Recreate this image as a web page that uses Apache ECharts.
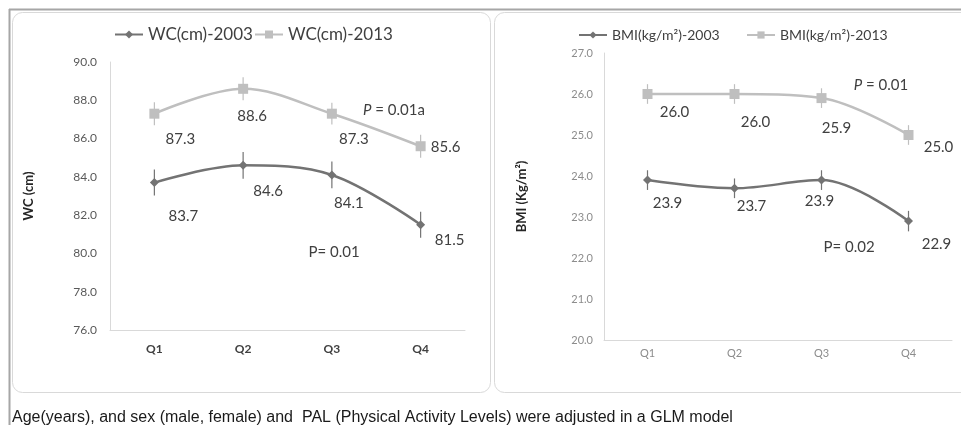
<!DOCTYPE html>
<html><head><meta charset="utf-8">
<script src="https://cdn.jsdelivr.net/npm/echarts@6/dist/echarts.min.js"></script>
<style>html,body{margin:0;padding:0;background:#fff}#c{width:961px;height:425px}</style>
</head><body><div id="c"></div>
<script>
const categories = ['Q1','Q2','Q3','Q4'];
const wc2003 = [83.7, 84.6, 84.1, 81.5];
const wc2013 = [87.3, 88.6, 87.3, 85.6];
const wc2003Err = [0.68, 0.7, 0.7, 0.68];
const wc2013Err = [0.6, 0.6, 0.57, 0.6];
const bmi2003 = [23.9, 23.7, 23.9, 22.9];
const bmi2013 = [26.0, 26.0, 25.9, 25.0];
const bmi2003Err = [0.24, 0.24, 0.24, 0.25];
const bmi2013Err = [0.24, 0.24, 0.24, 0.24];
const wcTicks = {min: 76, max: 90, interval: 2};
const bmiTicks = {min: 20, max: 27, interval: 1};

// label offsets (style only)
const offWc2003 = [[29,34],[25,26],[17,28],[29,15]];
const offWc2013 = [[26,25],[9,27],[22,25],[25,1]];
const offBmi2003 = [[20,23],[17,18],[-2,21],[28,23]];
const offBmi2013 = [[27,18],[21,28],[15,30],[30,12]];

const DARK = '#737373', LIGHT = '#bfbfbf', TXT = '#404040';
const FONT = 'Lato';

function withLabels(vals, offs, size) {
  return vals.map((v, i) => ({
    value: v,
    label: {show: true, position: 'inside', offset: offs[i], formatter: v.toFixed(1),
      color: TXT, fontSize: size, fontFamily: FONT}
  }));
}
function errSeries(vals, errs, color, axisIdx) {
  return {
    type: 'custom', xAxisIndex: axisIdx, yAxisIndex: axisIdx, silent: true, z: 1,
    data: vals.map((v, i) => [i, v - errs[i], v + errs[i]]),
    renderItem: function (params, api) {
      const p1 = api.coord([api.value(0), api.value(1)]);
      const p2 = api.coord([api.value(0), api.value(2)]);
      return {type: 'line', shape: {x1: p1[0], y1: p1[1], x2: p2[0], y2: p2[1]},
        style: {stroke: color, lineWidth: 1.2}};
    }
  };
}
function lineSeries(name, vals, offs, color, sym, symSize, axisIdx, lsize) {
  return {
    name: name, type: 'line', xAxisIndex: axisIdx, yAxisIndex: axisIdx,
    smooth: 0.35, symbol: sym, symbolSize: symSize, z: 3,
    lineStyle: {color: color, width: 2.5}, itemStyle: {color: color},
    data: withLabels(vals, offs, lsize)
  };
}

const chart = echarts.init(document.getElementById('c'), null, {renderer: 'canvas'});
chart.setOption({
  animation: false,
  backgroundColor: '#fff',
  grid: [
    {left: 110, right: 496, top: 62, bottom: 95},
    {left: 604, right: 9, top: 53, bottom: 85}
  ],
  legend: [
    {data: ['WC(cm)-2003'], left: 109, top: 21, itemWidth: 28, itemHeight: 10,
     textStyle: {fontFamily: FONT, fontSize: 17, color: TXT}},
    {data: ['WC(cm)-2013'], left: 249, top: 21, itemWidth: 28, itemHeight: 10,
     textStyle: {fontFamily: FONT, fontSize: 17, color: TXT}},
    {data: ['BMI(kg/m²)-2003'], left: 573, top: 23, itemWidth: 28, itemHeight: 9,
     textStyle: {fontFamily: FONT, fontSize: 14, color: TXT}},
    {data: ['BMI(kg/m²)-2013'], left: 741, top: 23, itemWidth: 28, itemHeight: 9,
     textStyle: {fontFamily: FONT, fontSize: 14, color: TXT}}
  ],
  xAxis: [
    {type: 'category', gridIndex: 0, data: categories, boundaryGap: true,
     axisLine: {lineStyle: {color: '#d9d9d9', width: 1}}, axisTick: {show: false},
     axisLabel: {fontFamily: FONT, fontWeight: 'bold', fontSize: 12, color: TXT, margin: 13}},
    {type: 'category', gridIndex: 1, data: categories, boundaryGap: true,
     axisLine: {lineStyle: {color: '#d9d9d9', width: 1}}, axisTick: {show: false},
     axisLabel: {fontFamily: FONT, fontSize: 11, color: '#8c8c8c', margin: 8}}
  ],
  yAxis: [
    {type: 'value', gridIndex: 0, min: wcTicks.min, max: wcTicks.max, interval: wcTicks.interval,
     name: 'WC (cm)', nameLocation: 'middle', nameGap: 75, nameRotate: 90,
     nameTextStyle: {fontFamily: FONT, fontWeight: 'bold', fontSize: 13, color: '#262626'},
     axisLine: {show: true, lineStyle: {color: '#d9d9d9'}}, axisTick: {show: false}, splitLine: {show: false},
     axisLabel: {fontFamily: FONT, fontSize: 12, color: '#595959', margin: 13, formatter: v => v.toFixed(1)}},
    {type: 'value', gridIndex: 1, min: bmiTicks.min, max: bmiTicks.max, interval: bmiTicks.interval,
     name: 'BMI (Kg/m²)', nameLocation: 'middle', nameGap: 76, nameRotate: 90,
     nameTextStyle: {fontFamily: FONT, fontWeight: 'bold', fontSize: 13, color: '#262626'},
     axisLine: {show: true, lineStyle: {color: '#d9d9d9'}}, axisTick: {show: false}, splitLine: {show: false},
     axisLabel: {fontFamily: FONT, fontSize: 11, color: '#8c8c8c', margin: 11, formatter: v => v.toFixed(1)}}
  ],
  series: [
    errSeries(wc2003, wc2003Err, DARK, 0),
    errSeries(wc2013, wc2013Err, LIGHT, 0),
    errSeries(bmi2003, bmi2003Err, DARK, 1),
    errSeries(bmi2013, bmi2013Err, LIGHT, 1),
    lineSeries('WC(cm)-2003', wc2003, offWc2003, DARK, 'diamond', 9, 0, 15),
    lineSeries('WC(cm)-2013', wc2013, offWc2013, LIGHT, 'rect', 10, 0, 15),
    lineSeries('BMI(kg/m²)-2003', bmi2003, offBmi2003, DARK, 'diamond', 9, 1, 15),
    lineSeries('BMI(kg/m²)-2013', bmi2013, offBmi2013, LIGHT, 'rect', 10, 1, 15)
  ],
  graphic: [
    {type: 'line', shape: {x1: 9, y1: 9.5, x2: 961, y2: 9.5}, style: {stroke: '#a6a6a6', lineWidth: 2}, z: 0},
    {type: 'line', shape: {x1: 9.5, y1: 9, x2: 9.5, y2: 425}, style: {stroke: '#a6a6a6', lineWidth: 2}, z: 0},
    {type: 'rect', shape: {x: 12.5, y: 12.5, width: 478, height: 380, r: 10}, style: {fill: 'none', stroke: '#d9d9d9', lineWidth: 1}, z: 0},
    {type: 'rect', shape: {x: 494.5, y: 12.5, width: 480, height: 380, r: 10}, style: {fill: 'none', stroke: '#d9d9d9', lineWidth: 1}, z: 0},
    {type: 'text', x: 394, y: 110, style: {text: '{i|P} = 0.01a', rich: {i: {fontStyle: 'italic', fontFamily: FONT, fontSize: 15, fill: TXT}},
      font: '15px Lato', fill: TXT, align: 'center', verticalAlign: 'middle'}},
    {type: 'text', x: 334, y: 252, style: {text: 'P= 0.01', font: '15px Lato', fill: TXT, align: 'center', verticalAlign: 'middle'}},
    {type: 'text', x: 881, y: 85, style: {text: '{i|P} = 0.01', rich: {i: {fontStyle: 'italic', fontFamily: FONT, fontSize: 15, fill: TXT}},
      font: '15px Lato', fill: TXT, align: 'center', verticalAlign: 'middle'}},
    {type: 'text', x: 849, y: 247, style: {text: 'P= 0.02', font: '15px Lato', fill: TXT, align: 'center', verticalAlign: 'middle'}},
    {type: 'text', x: 12, y: 418, style: {text: 'Age(years), and sex (male, female) and  PAL (Physical Activity Levels) were adjusted in a GLM model',
      font: '16px "Liberation Sans", Arial', fill: '#1a1a1a', align: 'left', verticalAlign: 'middle'}}
  ]
});
</script></body></html>
